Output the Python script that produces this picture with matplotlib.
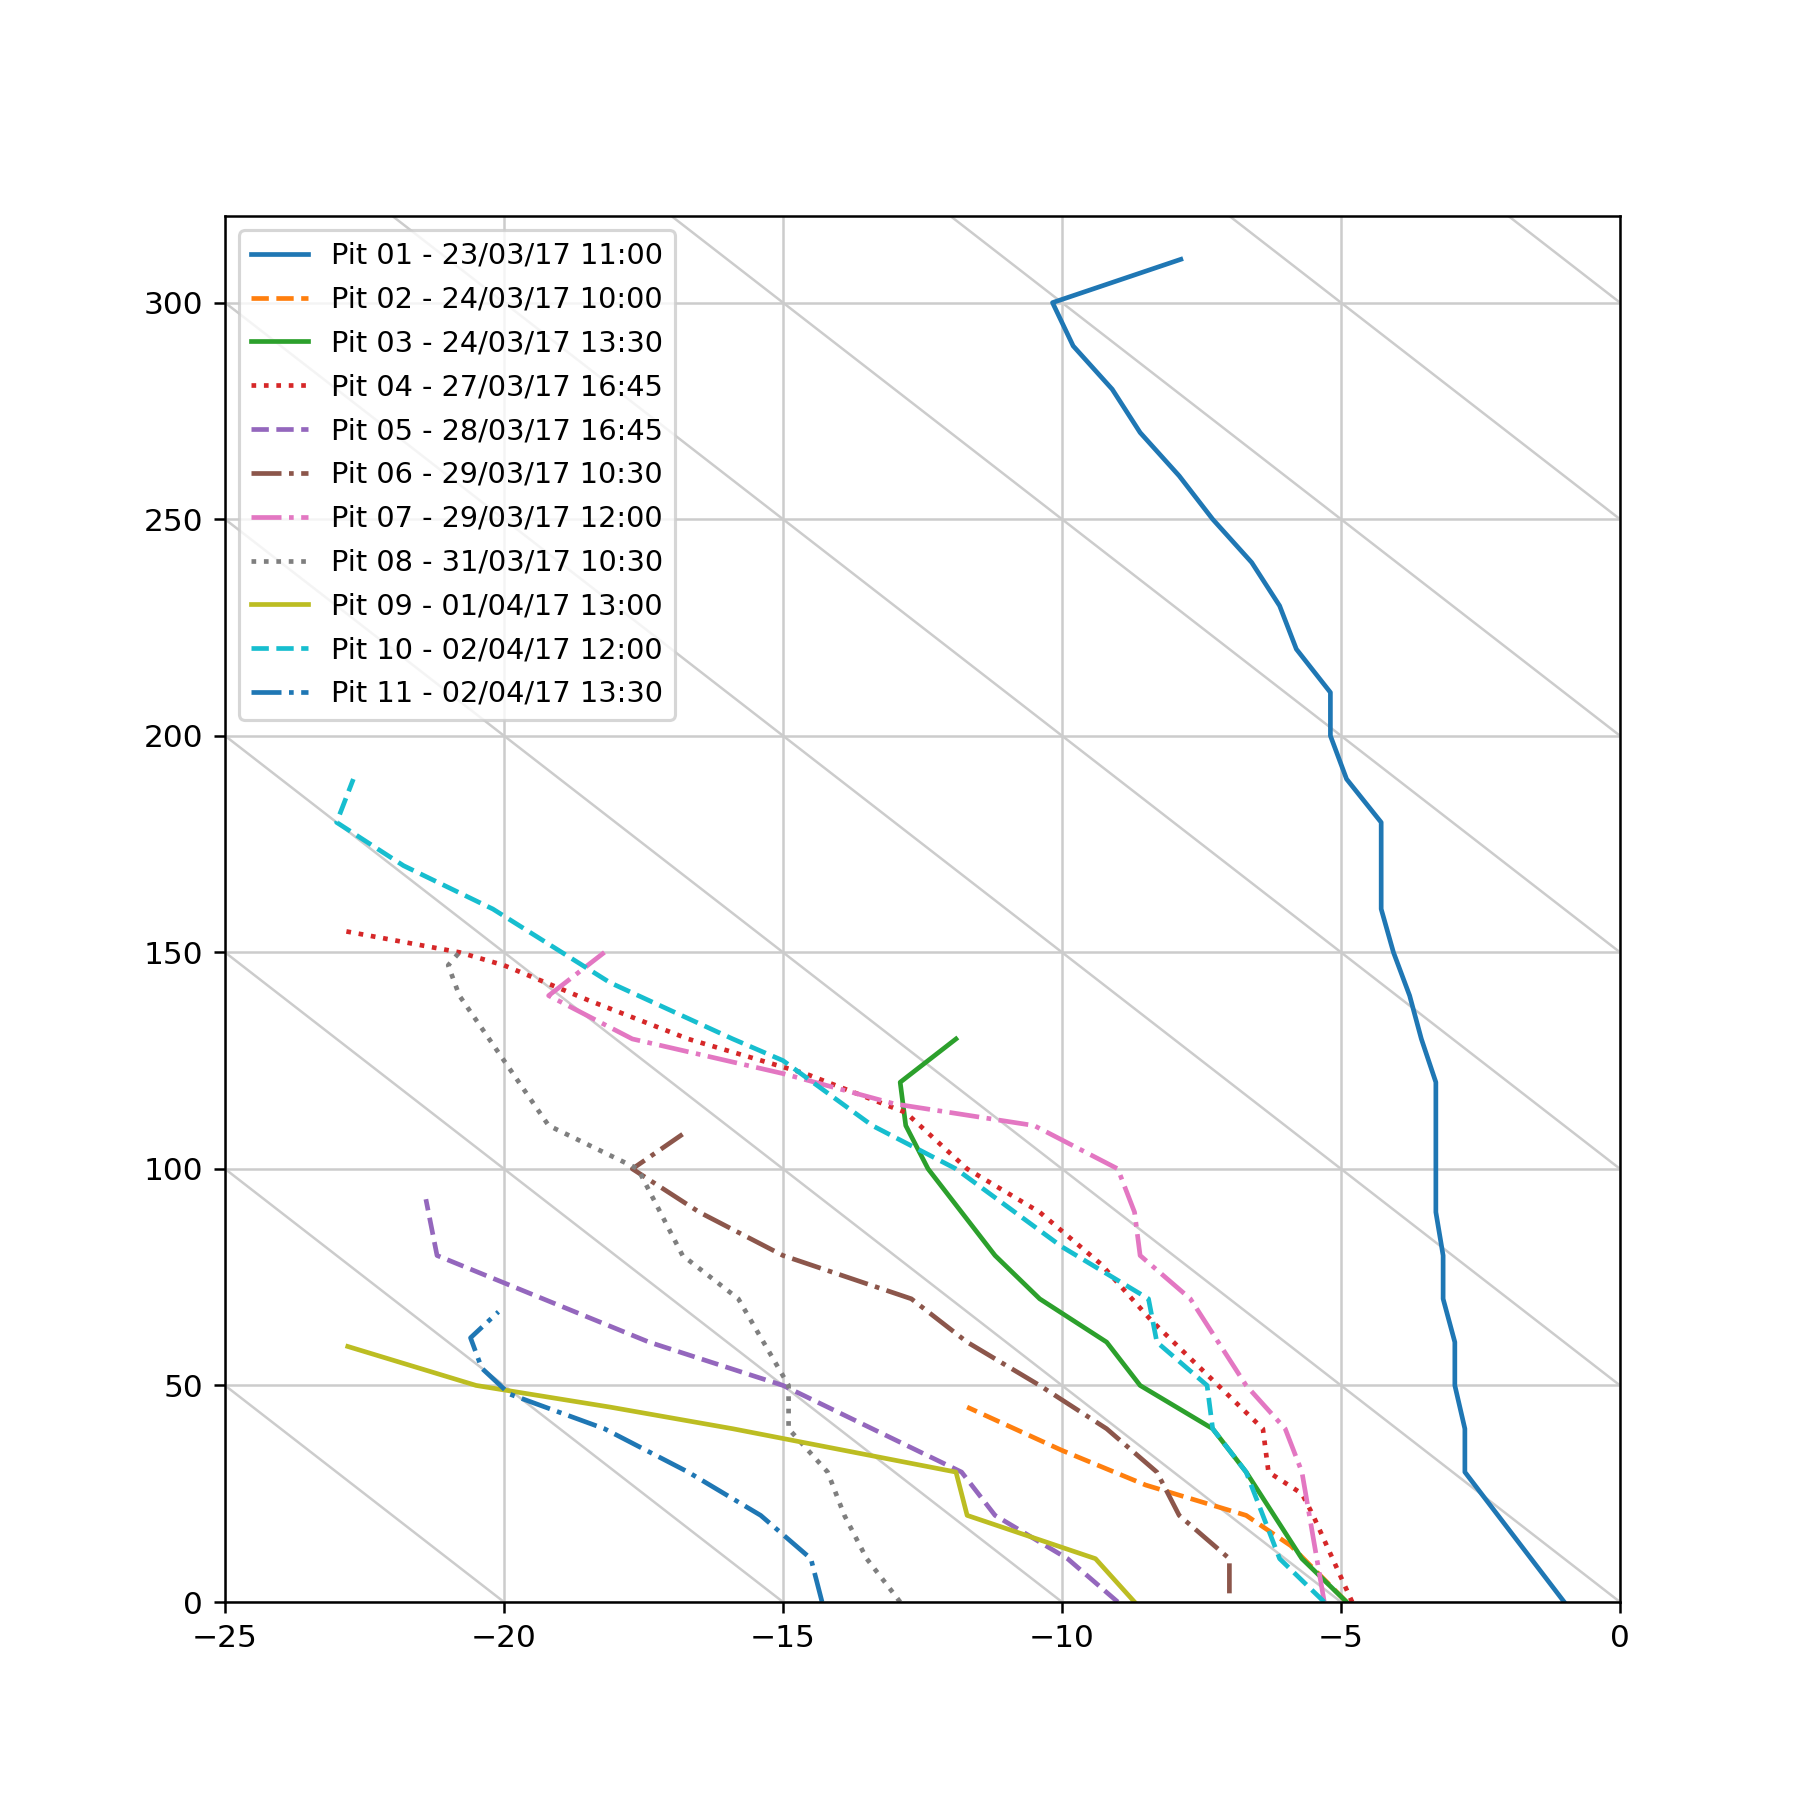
import numpy as np
import matplotlib
matplotlib.use("Agg")
import matplotlib.pyplot as plt

labels = ["Pit 01 - 23/03/17 11:00", "Pit 02 - 24/03/17 10:00", "Pit 03 - 24/03/17 13:30",
          "Pit 04 - 27/03/17 16:45", "Pit 05 - 28/03/17 16:45", "Pit 06 - 29/03/17 10:30",
          "Pit 07 - 29/03/17 12:00", "Pit 08 - 31/03/17 10:30", "Pit 09 - 01/04/17 13:00",
          "Pit 10 - 02/04/17 12:00", "Pit 11 - 02/04/17 13:30"]

p01_t = [-1.0, -2.78, -2.78, -2.96, -2.96, -3.17, -3.17, -3.3, -3.3, -3.56, -3.77, -4.06, -4.28, -4.28, -4.9, -5.19, -5.19, -5.8, -6.1, -6.6, -7.3, -7.9, -8.6, -9.1, -9.8, -10.17, -7.87]
p01_h = [0, 30, 40, 50, 60, 70, 80, 90, 120, 130, 140, 150, 160, 180, 190, 200, 210, 220, 230, 240, 250, 260, 270, 280, 290, 300, 310]
p02_t = [-4.9, -5.9, -6.7, -8.5, -10.0, -11.7]
p02_h = [0, 13, 20, 27, 35, 45]
p03_t = [-4.9, -5.7, -6.7, -7.3, -8.6, -9.2, -10.4, -11.2, -12.4, -12.8, -12.9, -11.9]
p03_h = [0, 10, 30, 40, 50, 60, 70, 80, 100, 110, 120, 130]
p04_t = [-4.8, -5.5, -5.7, -6.3, -6.4, -8.4, -9.3, -10.4, -11.7, -12.8, -14.6, -16.7, -18.5, -20.0, -20.8, -22.9]
p04_h = [0, 20, 25, 30, 40, 65, 78, 90, 100, 113, 122, 130, 139, 147, 150, 155]
p05_t = [-9.0, -9.9, -11.2, -11.8, -15.0, -17.4, -21.2, -21.4]
p05_h = [0, 10, 20, 30, 50, 60, 80, 93]
p06_t = [-7.0, -7.0, -7.9, -8.3, -9.2, -10.4, -11.7, -12.7, -15.0, -16.5, -17.7, -16.8]
p06_h = [2, 10, 20, 30, 40, 50, 60, 70, 80, 90, 100, 108]
p07_t = [-5.3, -5.7, -6.0, -6.7, -7.7, -8.6, -8.7, -9.0, -10.5, -13.0, -15.0, -17.7, -19.2, -18.2]
p07_h = [0, 30, 40, 50, 70, 80, 90, 100, 110, 115, 122, 130, 140, 150]
p08_t = [-12.9, -13.5, -13.9, -14.2, -14.9, -14.9, -15.8, -16.8, -17.6, -19.2, -20.8, -21.0, -20.8]
p08_h = [0, 10, 20, 30, 40, 50, 70, 80, 100, 110, 140, 147, 150]
p09_t = [-8.7, -9.4, -11.7, -11.9, -15.9, -18.1, -20.5, -22.8]
p09_h = [0, 10, 20, 30, 40, 45, 50, 59]
p10_t = [-5.3, -6.1, -6.4, -6.7, -7.3, -7.4, -8.3, -8.45, -10.0, -11.9, -13.4, -15.0, -15.9, -18.1, -20.2, -21.8, -23.0, -22.7]
p10_h = [0, 10, 20, 30, 40, 50, 60, 70, 82, 100, 110, 125, 130, 143, 160, 170, 180, 190]
p11_t = [-14.3, -14.5, -15.4, -16.7, -18.2, -19.9, -20.4, -20.6, -20.1]
p11_h = [0, 10, 20, 30, 40, 48, 54, 61, 67]

series = [(p01_t, p01_h), (p02_t, p02_h), (p03_t, p03_h), (p04_t, p04_h), (p05_t, p05_h),
          (p06_t, p06_h), (p07_t, p07_h), (p08_t, p08_h), (p09_t, p09_h), (p10_t, p10_h), (p11_t, p11_h)]
styles = ['-', '--', '-', ':', '--', '-.', '-.', ':', '-', '--', '-.']
colors = ['C0', 'C1', 'C2', 'C3', 'C4', 'C5', 'C6', 'C7', 'C8', 'C9', 'C0']

fig, ax = plt.subplots(figsize=(8, 8), dpi=225)
xs = np.array([-25, 0])
for c in range(-250, 351, 50):
    ax.plot(xs, -10 * xs + c, color='0.8', lw=0.8, zorder=0)
ax.grid(True, color='0.8', lw=0.8)
ax.set_axisbelow(True)
for (t, h), ls, col, lab in zip(series, styles, colors, labels):
    ax.plot(t, h, ls, color=col, label=lab, lw=1.5)
ax.set_xlim(-25, 0)
ax.set_ylim(0, 320)
ax.set_xticks([-25, -20, -15, -10, -5, 0])
ax.set_yticks([0, 50, 100, 150, 200, 250, 300])
ax.legend(loc='upper left', fontsize=9.2, labelspacing=0.55)
fig.savefig('out.png', dpi=225)
